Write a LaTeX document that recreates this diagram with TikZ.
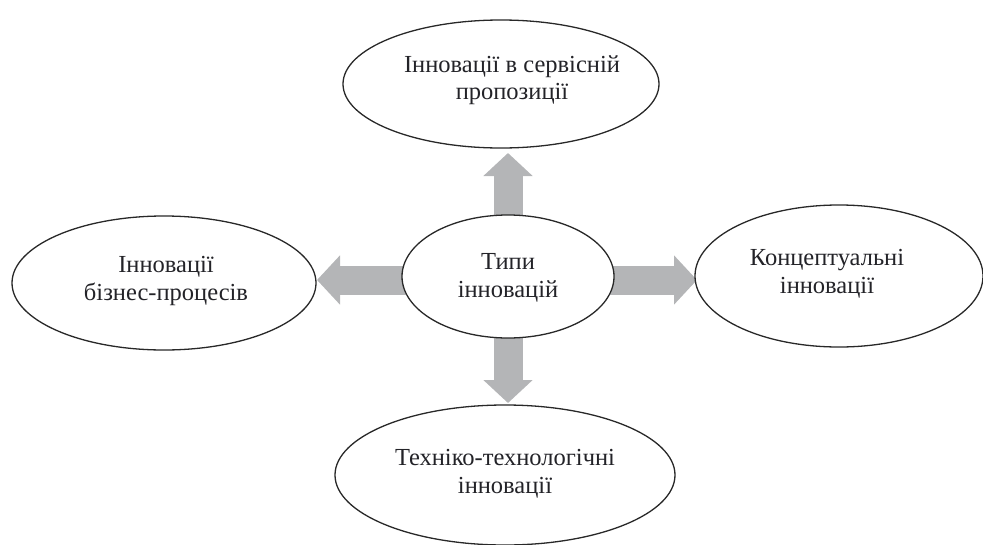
\documentclass[tikz,border=0pt]{standalone}
\usepackage{fontspec}
\setmainfont{Liberation Serif}
\usetikzlibrary{shapes.geometric,arrows.meta,backgrounds}
\definecolor{arrowgray}{RGB}{180,181,183}
\definecolor{edgecol}{RGB}{40,40,40}
\definecolor{txtcol}{RGB}{35,35,40}
\tikzset{
  oval/.style={ellipse, draw=edgecol, line width=1.3pt, fill=white, inner sep=0pt},
  lbl/.style={align=center, text=txtcol, font=\fontsize{24.5}{27.5}\selectfont, inner sep=0pt},
  fatarrow/.style={draw=arrowgray, line width=29pt, -{Triangle[length=23pt,width=48pt]}, arrowgray}
}
\begin{document}
\begin{tikzpicture}[x=1pt,y=-1pt]
\useasboundingbox (0,0) rectangle (983,544);
\node[oval, minimum width=212pt, minimum height=123pt] (c) at (508,276.5) {};
\node[oval, minimum width=316pt, minimum height=128pt] (t) at (501,84) {};
\node[oval, minimum width=304pt, minimum height=134pt] (l) at (164,283) {};
\node[oval, minimum width=288pt, minimum height=142pt] (r) at (839,276) {};
\node[oval, minimum width=340pt, minimum height=140pt] (b) at (505,475) {};
\begin{scope}[on background layer]
\draw[fatarrow] (c.center) -- (508,153);
\draw[fatarrow] (c.center) -- (508,403);
\draw[fatarrow] ([yshift=-3.5pt]c.center) -- (317,280);
\draw[fatarrow] ([yshift=-3.5pt]c.center) -- (697,280);
\end{scope}
\node[lbl] (ct) at (508,278) {Типи\\інновацій};
\node[lbl] (tt) at (512,80) {Інновації в сервісній\\пропозиції};
\node[lbl] (lt) at (166,281) {Інновації\\бізнес-процесів};
\node[lbl] (rt) at (827,274) {Концептуальні\\інновації};
\node[lbl] (bt) at (505,474) {Техніко-технологічні\\інновації};
\end{tikzpicture}
\end{document}
